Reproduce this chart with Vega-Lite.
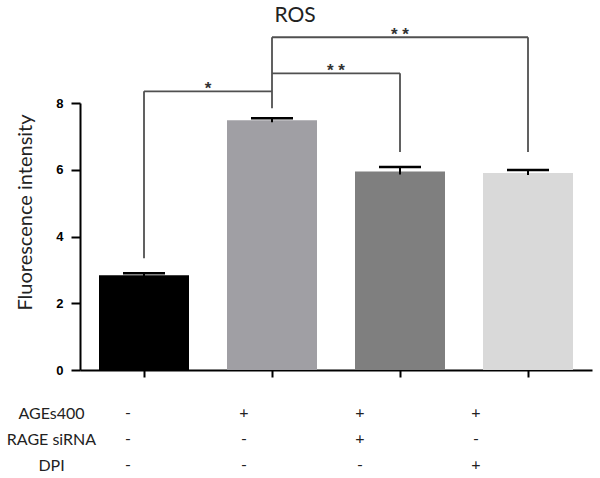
{
  "$schema": "https://vega.github.io/schema/vega-lite/v6.json",
  "width": 512,
  "height": 267,
  "autosize": {"type": "none"},
  "padding": {"left": 80, "top": 103, "right": 8, "bottom": 108},
  "background": "white",
  "title": {"text": "ROS", "font": "Lato", "fontSize": 21, "fontWeight": "normal", "color": "#222222", "anchor": "middle", "frame": "group", "dx": -41, "offset": 0},
  "config": {"view": {"stroke": null}, "axis": {"grid": false}},
  "datasets": {
    "bars": [
      {"group": "Control", "pos": 0.5, "mean": 2.84, "lo": 2.8, "hi": 2.9},
      {"group": "AGEs400", "pos": 1.5, "mean": 7.48, "lo": 7.42, "hi": 7.54},
      {"group": "AGEs400 + RAGE siRNA", "pos": 2.5, "mean": 5.95, "lo": 5.86, "hi": 6.08},
      {"group": "AGEs400 + DPI", "pos": 3.5, "mean": 5.9, "lo": 5.84, "hi": 5.99}
    ],
    "brackets": [
      {"xa": 0.5, "xb": 1.5, "ya": 8.35, "yb": 8.35},
      {"xa": 0.5, "xb": 0.5, "ya": 3.35, "yb": 8.35},
      {"xa": 1.5, "xb": 1.5, "ya": 7.84, "yb": 9.97},
      {"xa": 1.5, "xb": 2.5, "ya": 8.89, "yb": 8.89},
      {"xa": 2.5, "xb": 2.5, "ya": 6.53, "yb": 8.89},
      {"xa": 1.5, "xb": 3.5, "ya": 9.97, "yb": 9.97},
      {"xa": 3.5, "xb": 3.5, "ya": 6.53, "yb": 9.97}
    ],
    "stars": [
      {"label": "*", "pos": 1.0, "y": 8.35},
      {"label": "* *", "pos": 2.0, "y": 8.89},
      {"label": "* *", "pos": 2.5, "y": 9.97}
    ],
    "table": [
      {"group": "Control", "row": "AGEs400", "sign": "-"},
      {"group": "AGEs400", "row": "AGEs400", "sign": "+"},
      {"group": "AGEs400 + RAGE siRNA", "row": "AGEs400", "sign": "+"},
      {"group": "AGEs400 + DPI", "row": "AGEs400", "sign": "+"},
      {"group": "Control", "row": "RAGE siRNA", "sign": "-"},
      {"group": "AGEs400", "row": "RAGE siRNA", "sign": "-"},
      {"group": "AGEs400 + RAGE siRNA", "row": "RAGE siRNA", "sign": "+"},
      {"group": "AGEs400 + DPI", "row": "RAGE siRNA", "sign": "-"},
      {"group": "Control", "row": "DPI", "sign": "-"},
      {"group": "AGEs400", "row": "DPI", "sign": "-"},
      {"group": "AGEs400 + RAGE siRNA", "row": "DPI", "sign": "-"},
      {"group": "AGEs400 + DPI", "row": "DPI", "sign": "+"}
    ]
  },
  "layer": [
    {
      "encoding": {
        "x": {"type": "quantitative", "scale": {"domain": [0, 4], "nice": false, "zero": false, "padding": 0},
          "axis": {"values": [0.5, 1.5, 2.5, 3.5], "labels": false, "title": null, "tickSize": 7, "tickWidth": 2, "tickColor": "#000000", "domainColor": "#000000", "domainWidth": 2, "grid": false}},
        "y": {"type": "quantitative", "scale": {"domain": [0, 8], "nice": false},
          "axis": {"values": [0, 2, 4, 6, 8], "title": "Fluorescence intensity", "titleFont": "Lato", "titleFontSize": 20, "titleFontWeight": "normal", "titleColor": "#222222", "titleX": -45, "titleY": 109,
            "labelFont": "Liberation Sans", "labelFontSize": 13, "labelFontWeight": "bold", "labelColor": "#000000", "labelPadding": 8, "tickSize": 9, "tickWidth": 2, "tickColor": "#000000", "domainColor": "#000000", "domainWidth": 2, "grid": false}}
      },
      "layer": [
        {
          "data": {"name": "bars"},
          "mark": {"type": "bar", "orient": "vertical", "width": 90},
          "encoding": {
            "x": {"field": "pos", "type": "quantitative"},
            "y": {"field": "mean", "type": "quantitative"},
            "color": {"field": "group", "type": "nominal", "legend": null,
              "scale": {"domain": ["Control", "AGEs400", "AGEs400 + RAGE siRNA", "AGEs400 + DPI"], "range": ["#000000", "#a09fa4", "#7f7f7f", "#d9d9d9"]}}
          }
        },
        {
          "data": {"name": "bars"},
          "mark": {"type": "rule", "color": "#000000", "strokeWidth": 2},
          "encoding": {
            "x": {"field": "pos", "type": "quantitative"},
            "y": {"field": "lo", "type": "quantitative"},
            "y2": {"field": "hi"}
          }
        },
        {
          "data": {"name": "bars"},
          "mark": {"type": "tick", "orient": "horizontal", "size": 42, "thickness": 2.5, "color": "#000000", "opacity": 1},
          "encoding": {
            "x": {"field": "pos", "type": "quantitative"},
            "y": {"field": "hi", "type": "quantitative"}
          }
        },
        {
          "data": {"name": "brackets"},
          "mark": {"type": "rule", "color": "#505050", "strokeWidth": 1.8},
          "encoding": {
            "x": {"field": "xa", "type": "quantitative"},
            "x2": {"field": "xb"},
            "y": {"field": "ya", "type": "quantitative"},
            "y2": {"field": "yb"}
          }
        },
        {
          "data": {"name": "stars"},
          "mark": {"type": "text", "font": "Liberation Sans", "fontSize": 17, "fontWeight": "bold", "color": "#333333", "baseline": "alphabetic", "dy": 3},
          "encoding": {
            "x": {"field": "pos", "type": "quantitative"},
            "y": {"field": "y", "type": "quantitative"},
            "text": {"field": "label"}
          }
        }
      ]
    },
    {
      "data": {"name": "table"},
      "mark": {"type": "text", "font": "Lato", "fontSize": 16, "color": "#222222", "baseline": "middle"},
      "encoding": {
        "x": {"field": "group", "type": "nominal", "sort": ["Control", "AGEs400", "AGEs400 + RAGE siRNA", "AGEs400 + DPI"],
          "scale": {"type": "point", "range": [48, 396], "padding": 0}, "axis": null},
        "y": {"field": "row", "type": "nominal", "sort": ["AGEs400", "RAGE siRNA", "DPI"],
          "scale": {"type": "point", "range": [310, 362], "padding": 0},
          "axis": {"orient": "left", "title": null, "domain": false, "ticks": false, "tickSize": 0, "labelAlign": "center", "labelBaseline": "middle", "labelPadding": 29, "labelFont": "Lato", "labelFontSize": 16, "labelColor": "#222222", "grid": false}},
        "text": {"field": "sign"}
      }
    }
  ],
  "resolve": {"scale": {"x": "independent", "y": "independent"}}
}
